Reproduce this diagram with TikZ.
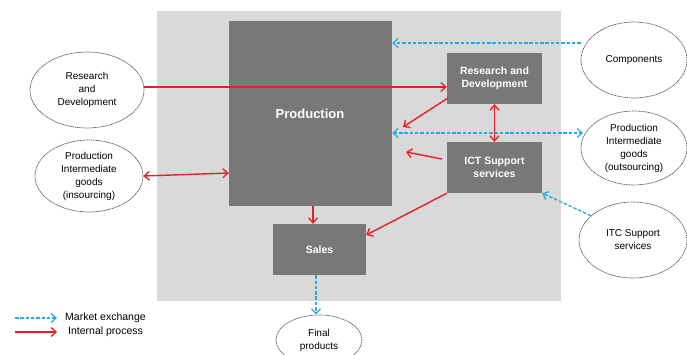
\documentclass[tikz,border=0pt]{standalone}
\usepackage{fontspec}
\setmainfont{Liberation Sans}
\usetikzlibrary{arrows.meta,shapes.geometric}
\definecolor{bg}{RGB}{217,217,217}
\definecolor{boxc}{RGB}{120,120,120}
\definecolor{redc}{RGB}{232,30,40}
\definecolor{bluec}{RGB}{40,170,225}
\definecolor{ellc}{RGB}{90,90,90}
\tikzset{
  tipr/.tip={Straight Barb[length=5pt,width=9pt,line width=1.3pt]},
  tipb/.tip={Straight Barb[length=5pt,width=9pt,line width=1.2pt]},
  box/.style={fill=boxc, draw=none, text=white, font=\bfseries\fontsize{10.5}{13}\selectfont, align=center, inner sep=0pt},
  ell/.style={ellipse, draw=ellc, dash pattern=on 1.2pt off 0.6pt, line width=0.7pt, fill=white, align=center, inner sep=0pt, font=\fontsize{10}{13}\selectfont},
  intl/.style={draw=redc, line width=1.4pt, -tipr},
  intlb/.style={draw=redc, line width=1.4pt, tipr-tipr},
  mkt/.style={draw=bluec, line width=1.3pt, dash pattern=on 3.5pt off 1.8pt, -tipb},
  mktb/.style={draw=bluec, line width=1.3pt, dash pattern=on 3.5pt off 1.8pt, tipb-tipb},
}
\begin{document}
\begin{tikzpicture}[x=1pt,y=-1pt]
\useasboundingbox (0,0) rectangle (687,354);
\fill[white] (0,0) rectangle (687,354);
% background
\fill[bg] (157,11) rectangle (561,301);
% boxes
\node[box, minimum width=163pt, minimum height=185pt] (prod) at (310.5,113.5) {};
\node[font=\bfseries\fontsize{13}{15}\selectfont, text=white] (prodlbl) at (310,114) {Production};
\node[box, minimum width=95pt, minimum height=51pt] (rd) at (494.5,78.5) {Research and\\Development};
\node[box, minimum width=95pt, minimum height=51pt] (ict) at (494.5,167.5) {ICT Support\\services};
\node[box, minimum width=93pt, minimum height=51pt] (sales) at (319.5,249.5) {Sales};
% ellipses
\node[ell, minimum width=114pt, minimum height=76pt] (erd) at (87,90) {Research\\and\\Development};
\node[ell, minimum width=108pt, minimum height=72pt] (eins) at (89,176) {Production\\Intermediate\\goods\\(insourcing)};
\node[ell, minimum width=106pt, minimum height=76pt] (ecomp) at (634,60) {Components};
\node[ell, minimum width=106pt, minimum height=74pt] (eout) at (634,148) {Production\\Intermediate\\goods\\(outsourcing)};
\node[ell, minimum width=108pt, minimum height=76pt] (eitc) at (633,240) {ITC Support\\services};
\node[ell, minimum width=86pt, minimum height=50pt] (efin) at (319,340) {Final\\products};
% connectors
\draw[mkt] (ecomp.west |- 0,43) -- (prod.east |- 0,43);
\draw[intl] (erd.east |- 0,87) -- (rd.west |- 0,87);
\draw[intl] (448,98) -- (403,127);
\draw[mktb] (prod.east |- 0,133) -- (583,133);
\draw[intlb] (rd.south) -- (ict.north);
\draw[intl] (442,159) -- (406,152);
\draw[intl] (ict.south west) -- (sales.east |- 0,235);
\draw[mkt] (eitc.150) -- (ict.south east);
\draw[intlb] (eins.east) -- (prod.west |- 0,173);
\draw[intl] (prod.south -| 313,0) -- (sales.north -| 313,0);
\draw[mkt] (sales.south -| 316,0) -- (efin.north -| 316,0);
% legend
\coordinate (l1a) at (15,318); \coordinate (l1b) at (57,318);
\coordinate (l2a) at (15,332); \coordinate (l2b) at (57,332);
\draw[mkt] (l1a) -- (l1b);
\draw[intl] (l2a) -- (l2b);
\node[anchor=west, font=\fontsize{10.5}{12}\selectfont, inner sep=0pt] (lt1) at (65,318) {Market exchange};
\node[anchor=west, font=\fontsize{10.5}{12}\selectfont, inner sep=0pt] (lt2) at (68,332) {Internal process};
\end{tikzpicture}
\end{document}
